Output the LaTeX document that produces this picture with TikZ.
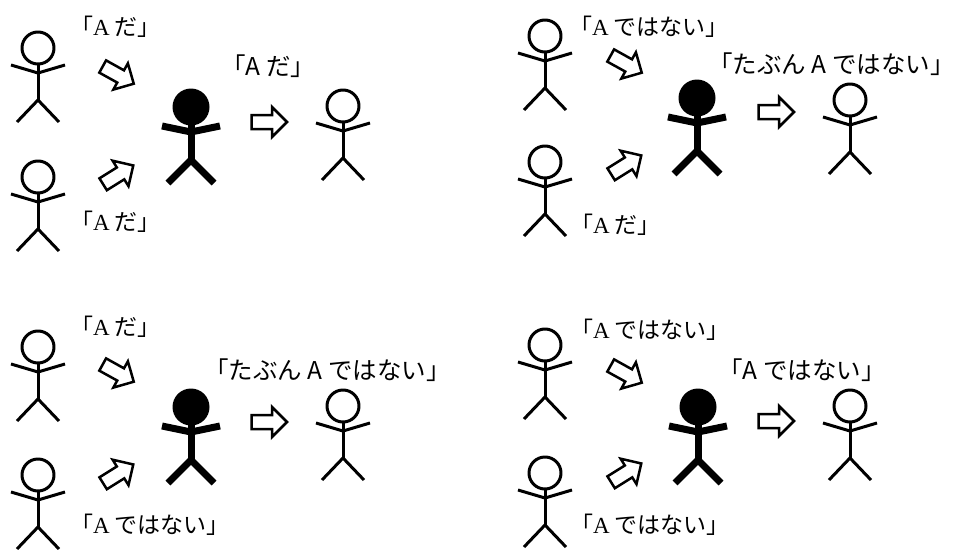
\documentclass[tikz,border=0pt]{standalone}
\usepackage{fontspec}
\setmainfont{Liberation Serif}
\newfontfamily\jpsans{Noto Sans CJK JP}

\tikzset{
  thinfig/.style={line width=3pt, line cap=butt, line join=round},
  thickfig/.style={line width=7pt, line cap=butt, line join=round},
  blockarrow/.style={line width=2.5pt, line join=miter, fill=white},
  saidlabel/.style={anchor=west, inner sep=0pt, font=\jpsans\fontsize{23}{27}\selectfont},
  heardlabel/.style={anchor=west, inner sep=0pt, font=\jpsans\fontsize{24.5}{29}\selectfont},
  % plain stick figure, origin at the centre of the head
  stickman/.pic={
    \draw[thinfig] (0,0) circle[radius=16pt];
    \draw[thinfig] (0,16) -- (0,53);
    \draw[thinfig] (-27,17) -- (0,25) -- (27,17);
    \draw[thinfig] (-21,74) -- (0,52) -- (21,74);
  },
  % the listener in the middle, drawn heavy and solid
  boldman/.pic={
    \fill (0,0) circle[radius=18.5pt];
    \draw[thickfig] (0,16) -- (0,53);
    \draw[thickfig] (-29,19) -- (0,25) -- (29,19);
    \draw[thickfig] (-23,76) -- (0,53) -- (23,76);
  },
  % hollow block arrow pointing along +x, centred on the origin
  hollowarrow/.pic={
    \draw[blockarrow] (-17.5,-7) -- (3,-7) -- (3,-15) -- (18,0) -- (3,15) -- (3,7) -- (-17.5,7) -- cycle;
  }
}

\begin{document}
\begin{tikzpicture}[x=1pt, y=-1pt]
\useasboundingbox (0,0) rectangle (956,549);

% ---------- panel 1 : both say A ----------
\pic (p1top) at (38,48) {stickman};
\pic (p1bot) at (38,177) {stickman};
\pic (p1mid) at (191,107) {boldman};
\pic (p1out) at (343,106) {stickman};
\pic[rotate=-29] (p1in1) at (118,75) {hollowarrow};
\pic[rotate=32] (p1in2) at (118,175) {hollowarrow};
\pic (p1fwd) at (269,122) {hollowarrow};
\node[saidlabel] (p1say1) at (70,27) {「\textrm{A} だ」};
\node[saidlabel] (p1say2) at (70,222) {「\textrm{A} だ」};
\node[heardlabel] (p1tell) at (221,66) {「A だ」};

% ---------- panel 2 : one says not A, one says A ----------
\pic (p2top) at (545,36) {stickman};
\pic (p2bot) at (545,162) {stickman};
\pic (p2mid) at (697,98) {boldman};
\pic (p2out) at (850,100) {stickman};
\pic[rotate=-29] (p2in1) at (626,64) {hollowarrow};
\pic[rotate=32] (p2in2) at (626,165) {hollowarrow};
\pic (p2fwd) at (776,112) {hollowarrow};
\node[saidlabel] (p2say1) at (569,27) {「\textrm{A} ではない」};
\node[saidlabel] (p2say2) at (570,225) {「\textrm{A} だ」};
% the closing bracket's empty right half is trimmed so the text fits the page
\node[heardlabel] (p2tell) at (708,64) {「たぶん A ではない」\hspace{-0.45em}};

% ---------- panel 3 : one says A, one says not A ----------
\pic (p3top) at (38,347) {stickman};
\pic (p3bot) at (38,475) {stickman};
\pic (p3mid) at (191,407) {boldman};
\pic (p3out) at (343,406) {stickman};
\pic[rotate=-29] (p3in1) at (118,373) {hollowarrow};
\pic[rotate=32] (p3in2) at (118,474) {hollowarrow};
\pic (p3fwd) at (269,422) {hollowarrow};
\node[saidlabel] (p3say1) at (70,327) {「\textrm{A} だ」};
\node[saidlabel] (p3say2) at (70,525) {「\textrm{A} ではない」};
\node[heardlabel] (p3tell) at (204,370) {「たぶん A ではない」};

% ---------- panel 4 : both say not A ----------
\pic (p4top) at (545,345) {stickman};
\pic (p4bot) at (545,473) {stickman};
\pic (p4mid) at (698,407) {boldman};
\pic (p4out) at (850,406) {stickman};
\pic[rotate=-29] (p4in1) at (626,374) {hollowarrow};
\pic[rotate=32] (p4in2) at (626,473) {hollowarrow};
\pic (p4fwd) at (776,421) {hollowarrow};
\node[saidlabel] (p4say1) at (570,330) {「\textrm{A} ではない」};
\node[saidlabel] (p4say2) at (570,525) {「\textrm{A} ではない」};
\node[heardlabel] (p4tell) at (718,370) {「A ではない」};
\end{tikzpicture}
\end{document}
